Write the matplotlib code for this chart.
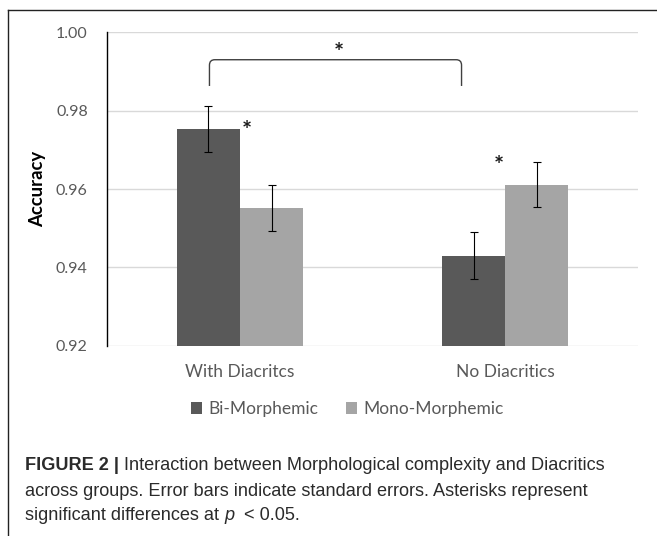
import numpy as np
import matplotlib
matplotlib.use("Agg")
import matplotlib.pyplot as plt
from matplotlib.path import Path
from matplotlib.patches import PathPatch
from matplotlib.lines import Line2D
from matplotlib import font_manager

groups = ["With Diacritcs", "No Diacritics"]
series = ["Bi-Morphemic", "Mono-Morphemic"]
bi_vals = [0.9753, 0.9429]
bi_err = [0.0059, 0.0060]
mono_vals = [0.9552, 0.9611]
mono_err = [0.0058, 0.0057]
yticks = [0.92, 0.94, 0.96, 0.98, 1.00]

# significance marks: bracket between groups, stars next to bars
bracket_x = [-0.115, 0.835]
bracket_y = [0.9863, 0.9930]
stars_x = [0.372, 0.025, 0.974]
stars_y = [0.9968, 0.9769, 0.9680]

names = {f.name for f in font_manager.fontManager.ttflist}
chart_font = "Lato" if "Lato" in names else "DejaVu Sans"
cap_font = "Liberation Sans Narrow" if "Liberation Sans Narrow" in names else "Liberation Sans"
cap_size = 11 if cap_font == "Liberation Sans Narrow" else 13.1

W, H = 657, 536
fig = plt.figure(figsize=(W / 100, H / 100), dpi=100)
ax = fig.add_axes([107.3 / W, 1 - 345.7 / H, (638 - 107.3) / W, (345.7 - 32.3) / H])

x = np.arange(len(groups))
w = 0.2377
ekw = dict(ecolor="black", elinewidth=0.8, capsize=3.0, capthick=0.8)
b1 = ax.bar(x - w / 2, bi_vals, w, yerr=bi_err, color="#595959", error_kw=ekw, label=series[0])
b2 = ax.bar(x + w / 2, mono_vals, w, yerr=mono_err, color="#a5a5a5", error_kw=ekw, label=series[1])

ax.set_xlim(-0.5, 1.5)
ax.set_ylim(0.92, 1.0)
ax.set_yticks(yticks)
ax.set_yticklabels(["%.2f" % v for v in yticks])
ax.set_xticks(x)
ax.set_xticklabels(groups)
ax.tick_params(length=0, labelcolor="#595959")
ax.tick_params(axis="y", labelsize=11.5, pad=14)
ax.tick_params(axis="x", labelsize=12.5, pad=13)
for lab in ax.get_xticklabels() + ax.get_yticklabels():
    lab.set_family(chart_font)
ax.grid(axis="y", color="#d9d9d9", lw=1)
ax.set_axisbelow(True)
for s in ["top", "right", "bottom"]:
    ax.spines[s].set_visible(False)
ax.spines["left"].set_color("black")
ax.spines["left"].set_linewidth(1)
ax.set_ylabel("Accuracy", fontsize=13.3, fontweight="bold", family=chart_font, labelpad=7)

# bracket with rounded corners
x0, x1 = bracket_x
yb, yt = bracket_y
rx, ry = 0.02, 0.0014
verts = [(x0, yb), (x0, yt - ry), (x0, yt), (x0 + rx, yt), (x1 - rx, yt),
         (x1, yt), (x1, yt - ry), (x1, yb)]
codes = [Path.MOVETO, Path.LINETO, Path.CURVE3, Path.CURVE3, Path.LINETO,
         Path.CURVE3, Path.CURVE3, Path.LINETO]
ax.add_patch(PathPatch(Path(verts, codes), fill=False, ec="#404040", lw=1, clip_on=False))
for sx, sy in zip(stars_x, stars_y):
    ax.text(sx, sy - 0.0022, "*", ha="center", va="center", fontsize=17, fontweight="bold",
            family=chart_font, color="#1a1a1a")

leg = fig.legend(handles=[b1, b2], labels=series, loc="center", bbox_to_anchor=(347 / W, 1 - 409 / H),
                 ncol=2, frameon=False, handlelength=0.65, handleheight=0.65, handletextpad=0.35,
                 columnspacing=1.6, prop={"family": chart_font, "size": 12.5})
for t in leg.get_texts():
    t.set_color("#595959")

# frame around the chart
fc = "#222222"
fig.add_artist(Line2D([8 / W, 8 / W], [0, 1 - 10 / H], transform=fig.transFigure, color=fc, lw=1))
fig.add_artist(Line2D([8 / W, 1], [1 - 10 / H, 1 - 10 / H], transform=fig.transFigure, color=fc, lw=1))

# caption
cap_lines = [
    [("FIGURE 2 |", "bold", "normal"), (" Interaction between Morphological complexity and Diacritics", "normal", "normal")],
    [("across groups. Error bars indicate standard errors. Asterisks represent", "normal", "normal")],
    [("significant differences at ", "normal", "normal"), ("p", "normal", "italic"), ("  < 0.05.", "normal", "normal")],
]
cap_y = [466, 491, 516]
renderer = fig.canvas.get_renderer()
inv = fig.transFigure.inverted()
for pieces, py in zip(cap_lines, cap_y):
    px = 25 / W
    for s, wt, st in pieces:
        t = fig.text(px, 1 - py / H, s, fontsize=cap_size, fontweight=wt, fontstyle=st,
                     family=cap_font, color="#2b2b2b", va="center")
        bb = t.get_window_extent(renderer)
        px = inv.transform((bb.x1, 0))[0]

fig.savefig("out.png", dpi=100)
